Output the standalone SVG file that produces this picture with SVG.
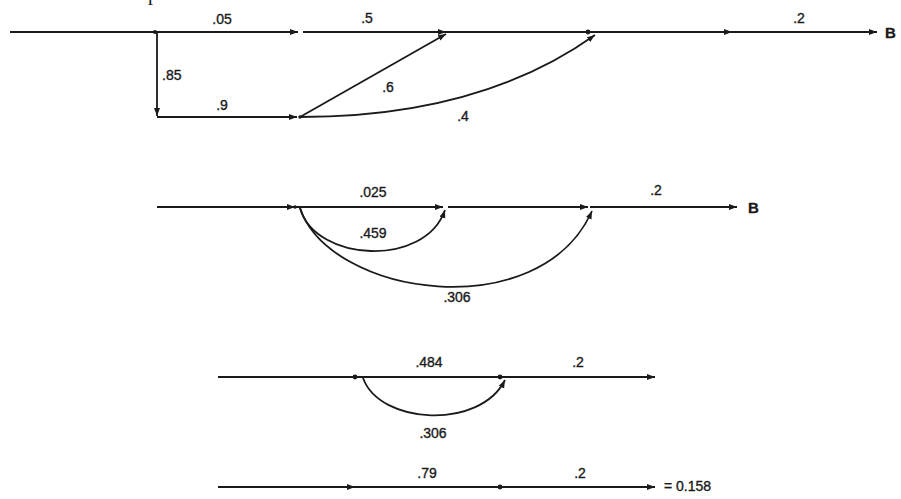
<svg xmlns="http://www.w3.org/2000/svg" width="901" height="499" viewBox="0 0 901 499">
<defs>
<marker id="ah" markerUnits="userSpaceOnUse" markerWidth="10" markerHeight="8" refX="8" refY="3" orient="auto">
<path d="M0,0 L8,3 L0,6 z" fill="#1a1a1a"/>
</marker>
<style>
.e{stroke:#1a1a1a;stroke-width:1.8;fill:none}
.a{marker-end:url(#ah)}
.t{font-family:"Liberation Sans",Arial,sans-serif;font-size:14px;fill:#1a1a1a;stroke:#1a1a1a;stroke-width:0.35}
.b{font-size:15px;font-weight:bold}
.m{text-anchor:middle}
.d{fill:#1a1a1a}
</style>
</defs>
<rect width="901" height="499" fill="#fff"/>
<text x="148" y="0" style="font-family:'Liberation Serif',serif;font-size:20px;fill:#1a1a1a">p</text>

<g id="connectors">
<!-- diagram 1 -->
<line class="e" x1="10" y1="32" x2="155" y2="32"/>
<line class="e a" x1="155" y1="32" x2="298" y2="32"/>
<line class="e a" x1="303" y1="32" x2="446" y2="32"/>
<line class="e" x1="446" y1="32" x2="588" y2="32"/>
<line class="e a" x1="588" y1="32" x2="732" y2="32"/>
<line class="e a" x1="732" y1="32" x2="877" y2="32"/>
<line class="e a" x1="157" y1="32" x2="157" y2="116"/>
<line class="e a" x1="157" y1="117" x2="297" y2="117"/>
<line class="e a" x1="300" y1="117" x2="446" y2="34"/>
<path class="e a" d="M300,117 Q480,117 595,35"/>
<!-- diagram 2 -->
<line class="e a" x1="157" y1="207" x2="295" y2="207"/>
<line class="e a" x1="295" y1="207" x2="443" y2="207"/>
<line class="e a" x1="448" y1="207" x2="588" y2="207"/>
<line class="e a" x1="590" y1="207" x2="737" y2="207"/>
<path class="e a" d="M300,208 C315,262 425,268 445,210"/>
<path class="e a" d="M300,208 C330,297 540,327 592,211"/>
<!-- diagram 3 -->
<line class="e" x1="218" y1="377" x2="355" y2="377"/>
<line class="e" x1="355" y1="377" x2="500" y2="377"/>
<line class="e a" x1="500" y1="377" x2="655" y2="377"/>
<path class="e a" d="M363,378 C380,425 480,430 505,380"/>
<!-- diagram 4 -->
<line class="e a" x1="218" y1="487" x2="355" y2="487"/>
<line class="e" x1="355" y1="487" x2="500" y2="487"/>
<line class="e a" x1="500" y1="487" x2="655" y2="487"/>
</g>

<g id="n1a"><circle class="d" cx="155" cy="32" r="2"/></g>
<g id="n1b"><circle class="d" cx="588" cy="32" r="2.4"/></g>
<g id="n1c"><circle class="d" cx="300" cy="117" r="1.8"/></g>
<g id="n1B"><text class="t b" x="885" y="38">B</text></g>
<g id="n2a"><circle class="d" cx="295" cy="207" r="1.8"/></g>
<g id="n2B"><text class="t b" x="748" y="213">B</text></g>
<g id="n3a"><circle class="d" cx="355" cy="377" r="2.4"/></g>
<g id="n3b"><circle class="d" cx="500" cy="377" r="2.4"/></g>
<g id="n4a"><circle class="d" cx="500" cy="487" r="2.4"/></g>
<g id="n4out"><text class="t" x="664" y="491">= 0.158</text></g>

<g id="labels">
<text class="t m" x="222" y="24">.05</text>
<text class="t m" x="367" y="23">.5</text>
<text class="t m" x="799" y="23">.2</text>
<text class="t" x="162" y="80">.85</text>
<text class="t m" x="222" y="110">.9</text>
<text class="t m" x="388" y="92">.6</text>
<text class="t m" x="463" y="121">.4</text>
<text class="t m" x="373" y="197">.025</text>
<text class="t m" x="656" y="195">.2</text>
<text class="t m" x="373" y="238">.459</text>
<text class="t m" x="457" y="302">.306</text>
<text class="t m" x="429" y="367">.484</text>
<text class="t m" x="578" y="367">.2</text>
<text class="t m" x="433" y="438">.306</text>
<text class="t m" x="427" y="478">.79</text>
<text class="t m" x="580" y="478">.2</text>
</g>
</svg>
